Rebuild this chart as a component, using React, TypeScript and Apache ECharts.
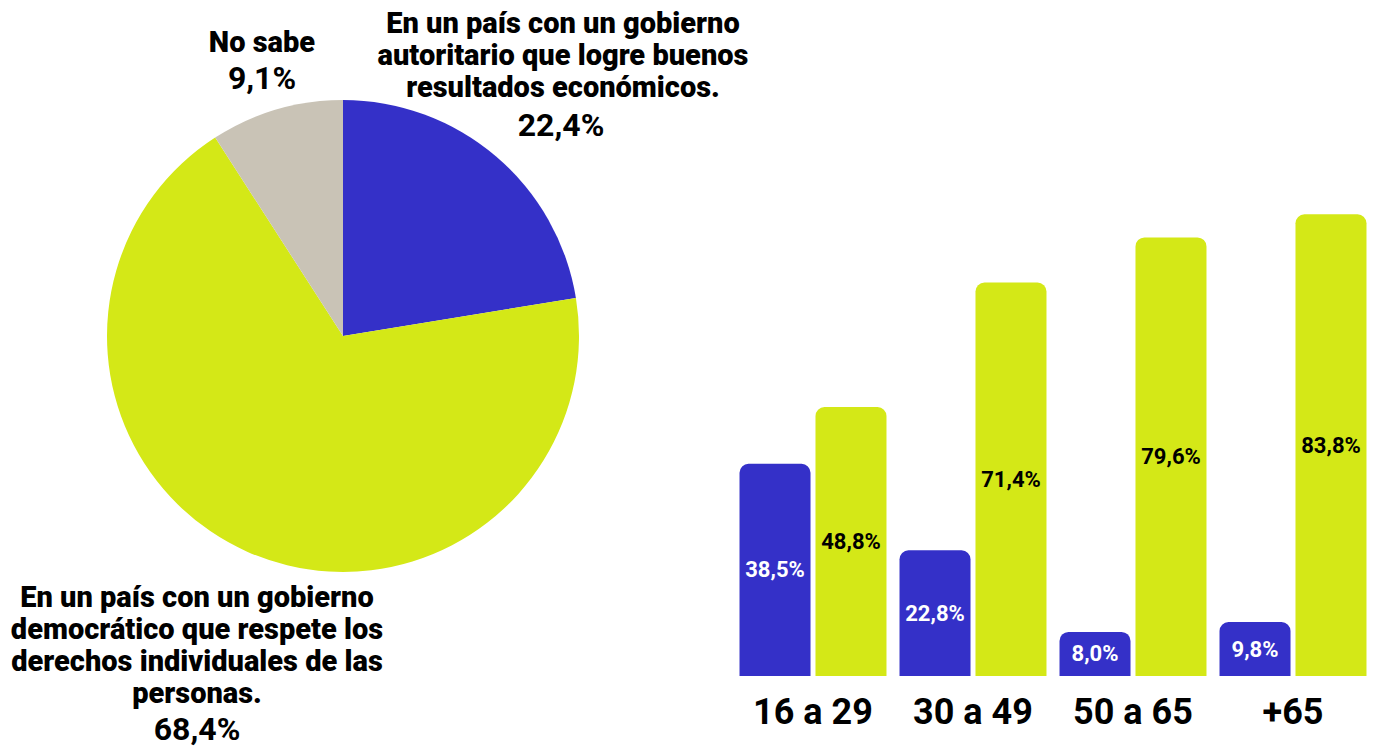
import React, { useEffect, useRef } from "react";
import * as echarts from "echarts";

const pieNames = [
  "En un país con un gobierno autoritario que logre buenos resultados económicos.",
  "En un país con un gobierno democrático que respete los derechos individuales de las personas.",
  "No sabe",
];
const pieValues = [22.4, 68.4, 9.1];
const pieColors = ["#3430c8", "#d4e817", "#c9c3b6"];

const ageGroups = ["16 a 29", "30 a 49", "50 a 65", "+65"];
const autoritario = [38.5, 22.8, 8.0, 9.8];
const democratico = [48.8, 71.4, 79.6, 83.8];

const FONT = "Roboto, 'Liberation Sans', sans-serif";
const fmt = (v: number) => v.toFixed(1).replace(".", ",") + "%";

export default function App() {
  const ref = useRef<HTMLDivElement>(null);
  useEffect(() => {
    if (!ref.current) return;
    const chart = echarts.init(ref.current, null, { renderer: "svg" });
    const labelStyle = (text: string, x: number, y: number, size: number, weight = 900) => ({
      type: "text",
      x,
      y,
      style: {
        text,
        font: `${weight} ${size}px ${FONT}`,
        fill: "#000",
        align: "center",
        verticalAlign: "middle",
        lineHeight: 32,
      },
    });
    chart.setOption({
      animation: false,
      backgroundColor: "#ffffff",
      textStyle: { fontFamily: FONT },
      grid: { left: 733, width: 640, top: 125, height: 551 },
      xAxis: {
        type: "category",
        data: ageGroups,
        axisLine: { show: false },
        axisTick: { show: false },
        axisLabel: {
          color: "#000",
          fontSize: 36,
          fontWeight: "bold",
          margin: 18,
          fontFamily: FONT,
        },
      },
      yAxis: { type: "value", min: 0, max: 100, show: false, splitLine: { show: false } },
      series: [
        {
          type: "pie",
          center: [343, 336],
          radius: 236,
          startAngle: 90,
          clockwise: true,
          label: { show: false },
          labelLine: { show: false },
          data: pieNames.map((n, i) => ({
            name: n,
            value: pieValues[i],
            itemStyle: { color: pieColors[i] },
          })),
        },
        {
          type: "bar",
          data: autoritario,
          barWidth: 71,
          barGap: "7%",
          itemStyle: { color: "#3430c8", borderRadius: [9, 9, 0, 0] },
          label: {
            show: true,
            position: "inside",
            color: "#fff",
            fontSize: 22,
            fontWeight: "bold",
            formatter: (p: any) => fmt(p.value),
          },
        },
        {
          type: "bar",
          data: democratico,
          barWidth: 71,
          barGap: "7%",
          itemStyle: { color: "#d4e817", borderRadius: [9, 9, 0, 0] },
          label: {
            show: true,
            position: "inside",
            color: "#000",
            fontSize: 22,
            fontWeight: "bold",
            formatter: (p: any) => fmt(p.value),
          },
        },
      ],
      graphic: [
        labelStyle("No sabe", 262, 42, 29),
        labelStyle(fmt(pieValues[2]), 262, 78, 32, 700),
        labelStyle(
          "En un país con un gobierno\nautoritario que logre buenos\nresultados económicos.",
          563,
          55,
          29
        ),
        labelStyle(fmt(pieValues[0]), 561, 125, 32, 700),
        labelStyle(
          "En un país con un gobierno\ndemocrático que respete los\nderechos individuales de las\npersonas.",
          197,
          645,
          29
        ),
        labelStyle(fmt(pieValues[1]), 197, 729, 32, 700),
      ],
    });
    return () => chart.dispose();
  }, []);
  return (
    <div
      ref={ref}
      style={{ position: "fixed", left: 0, top: 0, width: 1384, height: 749 }}
    />
  );
}
